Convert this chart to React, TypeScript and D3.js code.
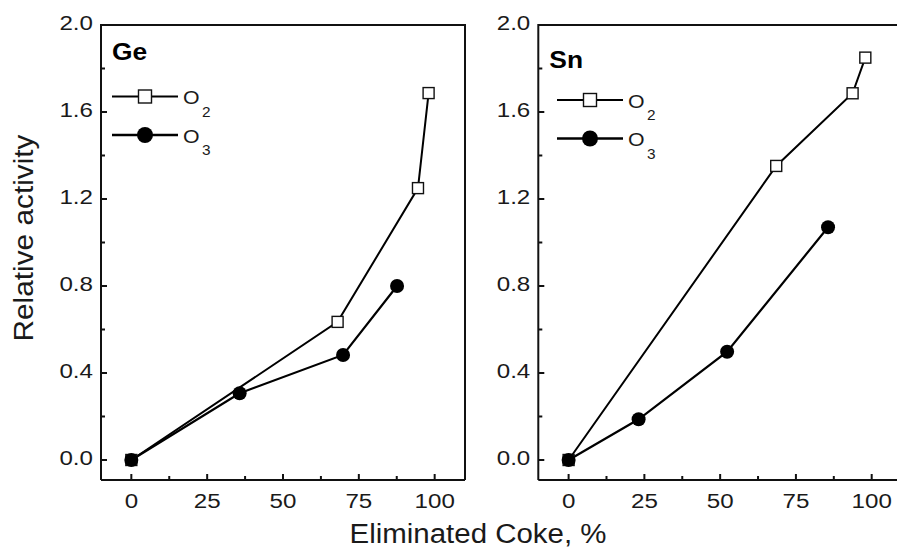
import React from "react";
import * as d3 from "d3";

const W = 897;
const H = 549;

const geO2X = [0, 68, 94.5, 98];
const geO2Y = [0, 0.635, 1.25, 1.687];
const geO3X = [0, 35.7, 69.8, 87.6];
const geO3Y = [0, 0.307, 0.483, 0.8];

const snO2X = [0, 68.5, 93.7, 97.9];
const snO2Y = [0, 1.352, 1.686, 1.85];
const snO3X = [0, 23.1, 52.3, 85.6];
const snO3Y = [0, 0.187, 0.498, 1.07];

const xTicks = [0, 25, 50, 75, 100];
const xMinor = [12.5, 37.5, 62.5, 87.5];
const yTicks = [0, 0.4, 0.8, 1.2, 1.6, 2.0];
const yMinor = [0.2, 0.6, 1.0, 1.4, 1.8];

const FONT = "'Liberation Sans', Arial, Helvetica, sans-serif";
const TXT = "#1a1a1a";

type TProps = {
  x: number;
  y: number;
  size: number;
  sx?: number;
  anchor?: "start" | "middle" | "end";
  baseline?: string;
  bold?: boolean;
  children: React.ReactNode;
};

function T({ x, y, size, sx = 1.12, anchor = "start", baseline, bold, children }: TProps) {
  return (
    <text
      transform={`translate(${x},${y}) scale(${sx},1)`}
      textAnchor={anchor}
      dominantBaseline={baseline}
      fontFamily={FONT}
      fontSize={size}
      fontWeight={bold ? "bold" : "normal"}
      fill={bold ? "#000" : TXT}
    >
      {children}
    </text>
  );
}

type PanelProps = {
  left: number;
  right: number;
  label: string;
  labelY: number;
  o2x: number[];
  o2y: number[];
  o3x: number[];
  o3y: number[];
  legX: number;
  legY1: number;
  legY2: number;
  drawRight: boolean;
};

function Panel(p: PanelProps) {
  const top = 25;
  const bottom = 480;
  const x = d3.scaleLinear().domain([-10, 110]).range([p.left, p.right]);
  const y = d3.scaleLinear().domain([-0.092, 2.0]).range([bottom, top]);
  const line = d3
    .line<[number, number]>()
    .x((d) => x(d[0]))
    .y((d) => y(d[1]));
  const o2 = p.o2x.map((v, i) => [v, p.o2y[i]] as [number, number]);
  const o3 = p.o3x.map((v, i) => [v, p.o3y[i]] as [number, number]);
  const sq = 11;
  const legLen = 66;
  return (
    <g>
      <path
        d={`M${p.left},${bottom} L${p.left},${top} L${p.right},${top} ${p.drawRight ? `L${p.right},${bottom}` : ""}`}
        fill="none"
        stroke="#111"
        strokeWidth={2}
      />
      <line x1={p.left} x2={p.right} y1={bottom} y2={bottom} stroke="#111" strokeWidth={2} />
      {yTicks.map((t) => (
        <g key={"y" + t}>
          <line x1={p.left} x2={p.left + 6} y1={y(t)} y2={y(t)} stroke="#111" strokeWidth={2} />
          <T x={p.left - 8} y={y(t) - 1.5} size={21} sx={1.15} anchor="end" baseline="central">
            {t.toFixed(1)}
          </T>
        </g>
      ))}
      {yMinor.map((t) => (
        <line key={"ym" + t} x1={p.left} x2={p.left + 4} y1={y(t)} y2={y(t)} stroke="#111" strokeWidth={2} />
      ))}
      {xTicks.map((t) => (
        <g key={"x" + t}>
          <line x1={x(t)} x2={x(t)} y1={bottom} y2={bottom - 6} stroke="#111" strokeWidth={2} />
          <T x={x(t)} y={501} size={21} sx={1.15} anchor="middle" baseline="central">
            {t}
          </T>
        </g>
      ))}
      {xMinor.map((t) => (
        <line key={"xm" + t} x1={x(t)} x2={x(t)} y1={bottom} y2={bottom - 4} stroke="#111" strokeWidth={2} />
      ))}
      <path d={line(o2) || ""} fill="none" stroke="#000" strokeWidth={2} />
      <path d={line(o3) || ""} fill="none" stroke="#000" strokeWidth={2.2} />
      {o2.map((d, i) => (
        <rect
          key={"s" + i}
          x={x(d[0]) - sq / 2}
          y={y(d[1]) - sq / 2}
          width={sq}
          height={sq}
          fill="#fff"
          stroke="#111"
          strokeWidth={1.4}
        />
      ))}
      {o3.map((d, i) => (
        <circle key={"c" + i} cx={x(d[0])} cy={y(d[1])} r={7} fill="#000" />
      ))}
      <T x={p.left + 11} y={p.labelY} size={24} sx={1.1} bold>
        {p.label}
      </T>
      <line x1={p.legX} x2={p.legX + legLen} y1={p.legY1} y2={p.legY1} stroke="#000" strokeWidth={2} />
      <rect
        x={p.legX + legLen / 2 - 6.5}
        y={p.legY1 - 6.5}
        width={13}
        height={13}
        fill="#fff"
        stroke="#111"
        strokeWidth={1.4}
      />
      <T x={p.legX + legLen + 5} y={p.legY1 + 7.5} size={19} sx={1.12}>
        O
      </T>
      <T x={p.legX + legLen + 24} y={p.legY1 + 20} size={14} sx={1.1}>
        2
      </T>
      <line x1={p.legX} x2={p.legX + legLen} y1={p.legY2} y2={p.legY2} stroke="#000" strokeWidth={2.4} />
      <circle cx={p.legX + legLen / 2} cy={p.legY2} r={8} fill="#000" />
      <T x={p.legX + legLen + 5} y={p.legY2 + 7.5} size={19} sx={1.12}>
        O
      </T>
      <T x={p.legX + legLen + 24} y={p.legY2 + 20} size={14} sx={1.1}>
        3
      </T>
    </g>
  );
}

export default function App() {
  return (
    <svg width={W} height={H} style={{ position: "absolute", left: 0, top: 0, background: "#fff" }}>
      <rect x={0} y={0} width={W} height={H} fill="#fff" />
      <Panel
        left={101}
        right={465}
        label="Ge"
        labelY={60}
        o2x={geO2X}
        o2y={geO2Y}
        o3x={geO3X}
        o3y={geO3Y}
        legX={112}
        legY1={96.5}
        legY2={135}
        drawRight={true}
      />
      <Panel
        left={538.3}
        right={902}
        label="Sn"
        labelY={68}
        o2x={snO2X}
        o2y={snO2Y}
        o3x={snO3X}
        o3y={snO3Y}
        legX={557}
        legY1={100}
        legY2={138.5}
        drawRight={false}
      />
      <text
        x={478}
        y={543}
        textAnchor="middle"
        fontFamily={FONT}
        fontSize={27}
        fill={TXT}
        textLength={257}
        lengthAdjust="spacingAndGlyphs"
      >
        Eliminated Coke, %
      </text>
      <text
        transform="translate(33,238) rotate(-90)"
        textAnchor="middle"
        fontFamily={FONT}
        fontSize={27}
        fill={TXT}
        textLength={207}
        lengthAdjust="spacingAndGlyphs"
      >
        Relative activity
      </text>
    </svg>
  );
}
